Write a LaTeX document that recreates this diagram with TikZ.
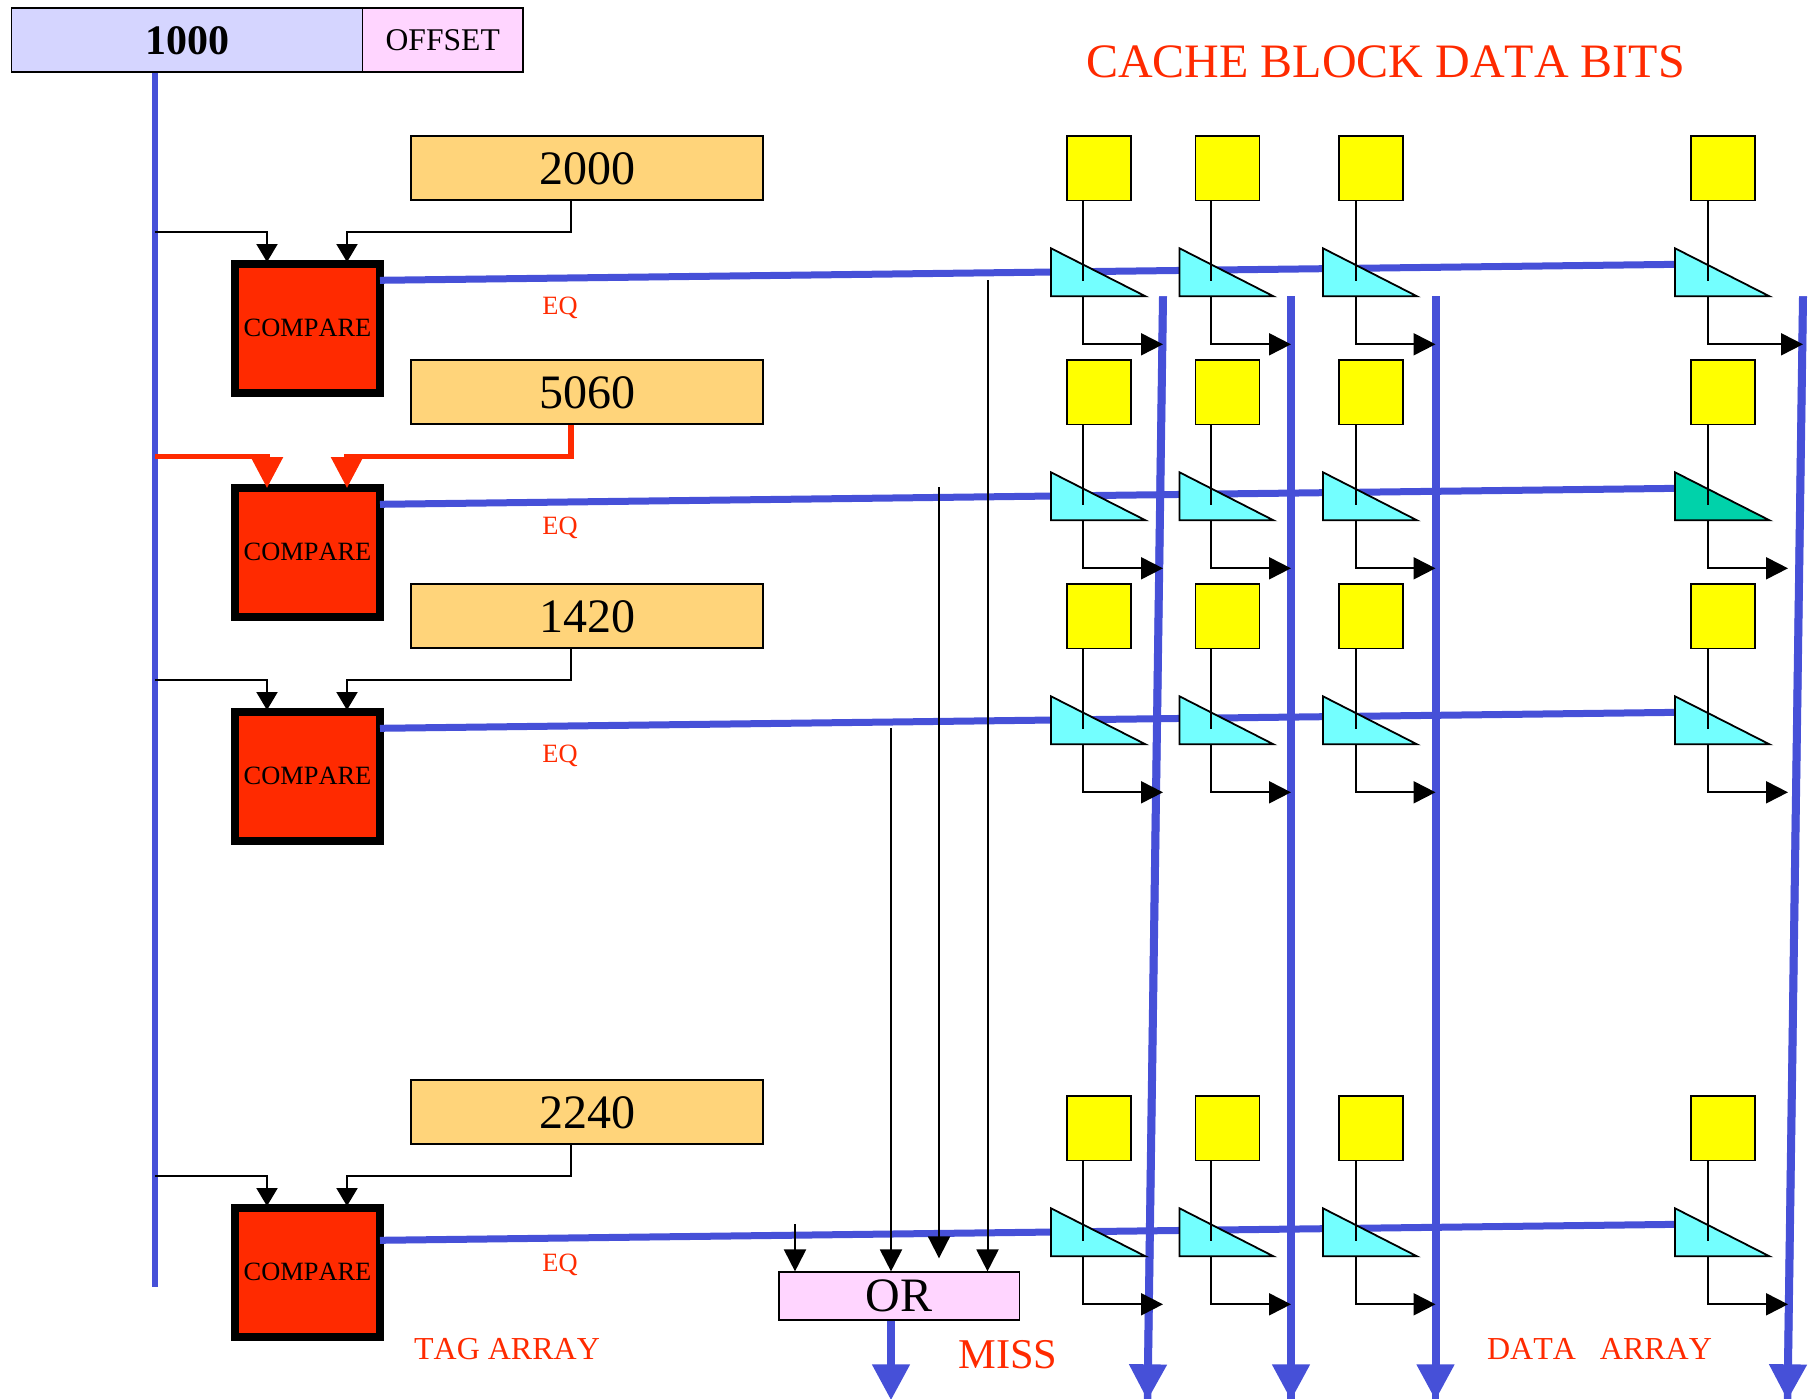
\documentclass[tikz,border=0pt]{standalone}
\usepackage{fontspec}
\setmainfont[Kerning=Off]{Liberation Serif}
\usetikzlibrary{arrows.meta}
\definecolor{barblue}{HTML}{4650D8}
\definecolor{hotred}{HTML}{FF2A00}
\definecolor{lav}{HTML}{D5D5FF}
\definecolor{pinkish}{HTML}{FFD5FF}
\definecolor{tagcol}{HTML}{FFD47A}
\definecolor{bityellow}{HTML}{FFFF00}
\definecolor{tricyan}{HTML}{73FFFF}
\definecolor{trigreen}{HTML}{00D2AA}
\tikzset{
  box/.style={draw=black,line width=0.9pt,inner sep=0pt,text=black},
  addr/.style={box,fill=lav,minimum width=175.5pt,minimum height=32pt,font=\fontsize{21}{21}\selectfont\bfseries},
  offs/.style={box,fill=pinkish,minimum width=80.25pt,minimum height=32pt,font=\fontsize{15.8}{16}\selectfont},
  tagbox/.style={box,fill=tagcol,minimum width=176pt,minimum height=32pt,font=\fontsize{24}{24}\selectfont},
  cmpbox/.style={draw=black,line width=3.75pt,fill=hotred,inner sep=0pt,minimum width=72.5pt,minimum height=64.5pt,font=\fontsize{13.2}{14}\selectfont},
  bitbox/.style={box,fill=bityellow,minimum width=32pt,minimum height=32.25pt},
  orbox/.style={box,fill=pinkish,minimum width=120.25pt,minimum height=24pt,font=\fontsize{24}{24}\selectfont},
  redtext/.style={text=hotred,inner sep=0pt},
  eqtext/.style={redtext,font=\fontsize{13.2}{14}\selectfont},
  bigred/.style={redtext,font=\fontsize{24}{24}\selectfont},
  midred/.style={redtext,font=\fontsize{16}{16}\selectfont},
  thinline/.style={draw=black,line width=1pt},
  conn/.style={thinline,shorten >=-1pt,-{Triangle[length=9pt,width=10.5pt]}},
  hotconn/.style={draw=hotred,line width=2.75pt,shorten >=-2pt,-{Triangle[length=15.5pt,width=15.5pt]}},
  longtip/.style={thinline,-{Triangle[length=11pt,width=11pt]}},
  hbar/.style={draw=barblue,line width=3.5pt},
  addrbar/.style={draw=barblue,line width=2.75pt},
  vbar/.style={draw=barblue,line width=3.75pt},
  vbartip/.style={draw=barblue,line width=4pt,-{Triangle[length=18pt,width=18pt]}},
  tri/.style={draw=black,line width=0.9pt,line join=miter},
}
\begin{document}
\begin{tikzpicture}[x=0.5pt,y=-0.5pt]
\useasboundingbox (0,0) rectangle (1815,1398);
\begin{scope}[yshift=-0.15pt]

% address register
\node[addr] (addr) at (187,40) {1000};
\node[offs] (offset) at (442.75,40) {OFFSET};

% title and labels
\node[bigred] (title) at (1385.5,61.5) {CACHE BLOCK DATA BITS};
\node[midred] (tagarray) at (507,1349) {TAG ARRAY};
\node[midred] (dataarray) at (1599.5,1348.5) {DATA\ \ \ ARRAY};
\node[redtext,font=\fontsize{21.2}{21}\selectfont] (miss) at (1008,1354.5) {MISS};

% OR gate
\node[orbox] (orgate) at (899.25,1296) {OR};

% address bus
\coordinate (busend) at (155,1287);
\draw[addrbar] (addr.south -| busend) -- (busend);

% tag rows
\foreach \rw/\ytag/\ycmp/\ylink/\yeqa/\yeqb/\yeq/\st/\val in {
  1/168/328/232/280/264/308/conn/2000,
  2/392/552/456/504/488/528/hotconn/5060,
  3/616/776/680/728/712/756/conn/1420,
  4/1112/1272/1176/1240/1224/1264.5/conn/2240}{
  \node[tagbox] (tag\rw) at (587,\ytag) {\val};
  \node[cmpbox] (cmp\rw) at (307.5,\ycmp) {COMPARE};
  \node[eqtext] (eq\rw) at (560,\yeq) {EQ};
  \coordinate (lnk\rw) at (155,\ylink);
  \coordinate (eqa\rw) at (380,\yeqa);
  \coordinate (eqb\rw) at (1680,\yeqb);
  \draw[hbar] (eqa\rw) -- (eqb\rw);
  \draw[\st] (lnk\rw) -| (cmp\rw.north -| 267,0);
  \draw[\st] (tag\rw.south -| 571,0) |- (347,\ylink) -- (cmp\rw.north -| 347,0);
}

% vertical data bars
\foreach \nm/\xa/\xb in {1/1163/1147.5, 2/1291/1291, 3/1435.5/1435.5, 4/1803/1787.5}{
  \coordinate (dtop\nm) at (\xa,296);
  \coordinate (dbot\nm) at (\xb,1400);
  \draw[vbar] (dtop\nm) -- (dbot\nm);
  \draw[vbartip] (dtop\nm) -- (dbot\nm);
}

% match lines to the OR gate
\coordinate (m1) at (987.5,280);
\coordinate (m2) at (939,487);
\coordinate (m2end) at (939,1258);
\coordinate (m3) at (891,728);
\coordinate (m4) at (795,1224);
\draw[longtip] (m1) -- (orgate.north -| m1);
\draw[longtip] (m2) -- (m2end);
\draw[longtip] (m3) -- (orgate.north -| m3);
\draw[longtip] (m4) -- (orgate.north -| m4);
\coordinate (missend) at (891,1400);
\draw[vbartip] (orgate.south -| missend) -- (missend);

% data array cells
\foreach \rw/\dy/\tipfour in {1/0/1803, 2/224/1788, 3/448/1788, 4/960/1788}{
  \foreach \cl/\xl/\xr/\xs/\xc/\xt in {
    1/1051/1145.5/1083/1099/1163,
    2/1179.5/1273.5/1211/1227.5/1291,
    3/1323/1417/1355.5/1371/1435.5,
    4/1675/1769.5/1707.5/1723/\tipfour}{
    \def\tfill{tricyan}
    \ifnum\rw\cl=24 \def\tfill{trigreen}\fi
    \node[bitbox] (bit\rw\cl) at (\xc,{168+\dy}) {};
    \draw[tri,fill=\tfill] (\xl,{248+\dy}) -- (\xl,{296+\dy}) -- (\xr,{296+\dy}) -- cycle;
    \coordinate (inn\rw\cl) at (\xs,{280.7+\dy});
    \coordinate (out\rw\cl) at (\xs,{296+\dy});
    \coordinate (tip\rw\cl) at (\xt,{344+\dy});
    \draw[thinline] (bit\rw\cl.south -| inn\rw\cl) -- (inn\rw\cl);
    \draw[longtip] (out\rw\cl) |- (tip\rw\cl);
  }
}
\end{scope}
\end{tikzpicture}
\end{document}
